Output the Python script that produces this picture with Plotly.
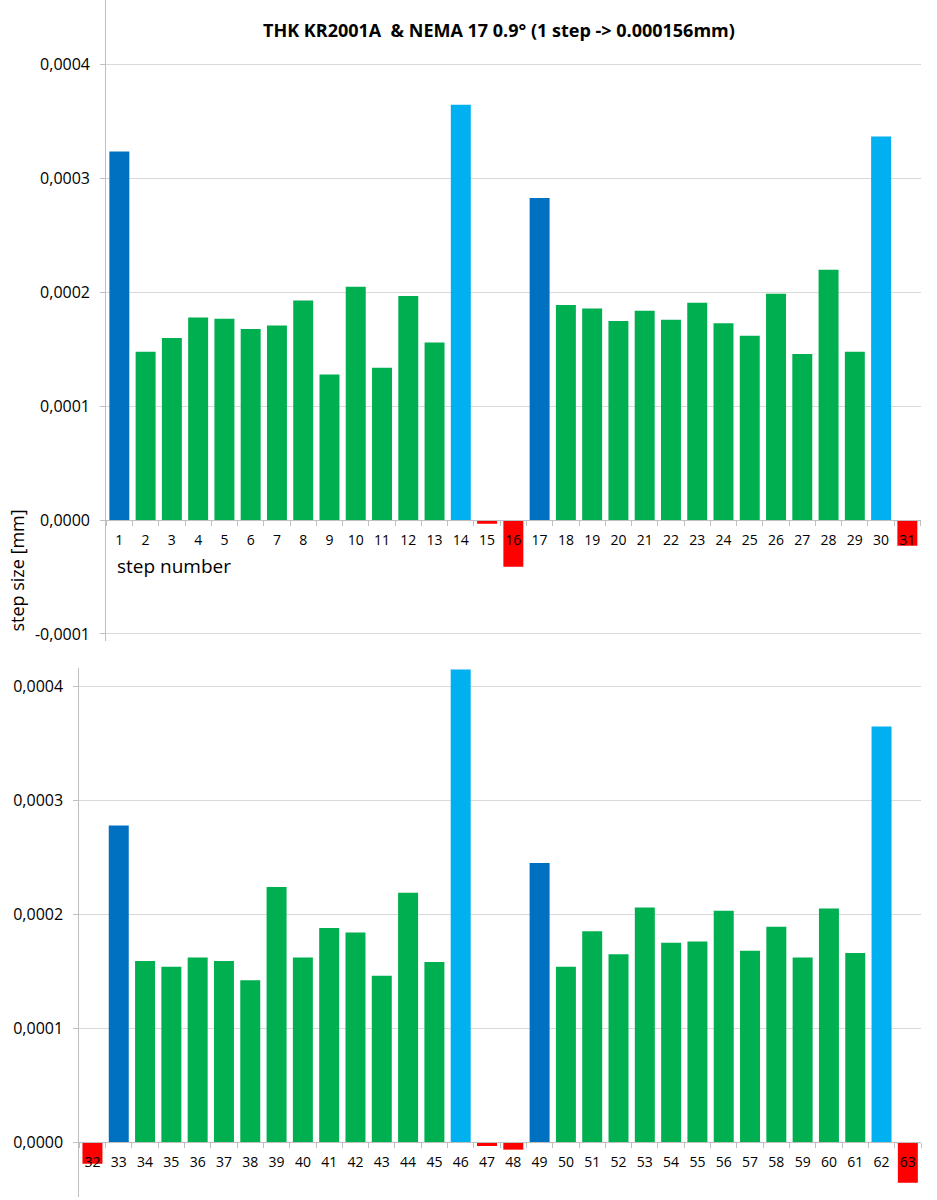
import plotly.graph_objects as go

# ---------------- data ----------------
steps_top = ["1", "2", "3", "4", "5", "6", "7", "8", "9", "10", "11", "12", "13", "14", "15", "16",
             "17", "18", "19", "20", "21", "22", "23", "24", "25", "26", "27", "28", "29", "30", "31"]
values_top = [0.000324, 0.000148, 0.000160, 0.000178, 0.000177, 0.000168, 0.000171, 0.000193,
              0.000128, 0.000205, 0.000134, 0.000197, 0.000156, 0.000365, -0.0000032, -0.000041,
              0.000283, 0.000189, 0.000186, 0.000175, 0.000184, 0.000176, 0.000191, 0.000173,
              0.000162, 0.000199, 0.000146, 0.000220, 0.000148, 0.000337, -0.0000225]

steps_bottom = ["32", "33", "34", "35", "36", "37", "38", "39", "40", "41", "42", "43", "44", "45", "46", "47",
                "48", "49", "50", "51", "52", "53", "54", "55", "56", "57", "58", "59", "60", "61", "62", "63"]
values_bottom = [-0.000019, 0.000278, 0.000159, 0.000154, 0.000162, 0.000159, 0.000142, 0.000224,
                 0.000162, 0.000188, 0.000184, 0.000146, 0.000219, 0.000158, 0.000415, -0.0000035,
                 -0.0000067, 0.000245, 0.000154, 0.000185, 0.000165, 0.000206, 0.000175, 0.000176,
                 0.000203, 0.000168, 0.000189, 0.000162, 0.000205, 0.000166, 0.000365, -0.0000358]

dark_blue_steps = ["1", "17", "33", "49"]
light_blue_steps = ["14", "30", "46", "62"]

top_tickvals = [-0.0001, 0.0, 0.0001, 0.0002, 0.0003, 0.0004]
top_ticktext = ["-0,0001", "0,0000", "0,0001", "0,0002", "0,0003", "0,0004"]
bottom_tickvals = [0.0, 0.0001, 0.0002, 0.0003, 0.0004]
bottom_ticktext = ["0,0000", "0,0001", "0,0002", "0,0003", "0,0004"]

title_text = "THK KR2001A  &amp; NEMA 17 0.9° (1 step -&gt; 0.000156mm)"
y_title = "step size [mm]"
x_title = "step number"

# ---------------- styles ----------------
DARK_BLUE = "#0070C0"
LIGHT_BLUE = "#00B0F0"
GREEN = "#00B050"
RED = "#FF0000"
GRID = "#D9D9D9"
AXIS = "#BFBFBF"
FONT = "Open Sans"
W, H = 937, 1200


def colors_for(steps, vals):
    out = []
    for s, v in zip(steps, vals):
        if v < 0:
            out.append(RED)
        elif s in dark_blue_steps:
            out.append(DARK_BLUE)
        elif s in light_blue_steps:
            out.append(LIGHT_BLUE)
        else:
            out.append(GREEN)
    return out


# panel geometry (paper fractions)
top_xdom = [106.2 / W, 920.5 / W]
top_ydom = [1 - 643 / H, 1.0]
top_range = [-0.0001065, 0.000457]
bot_xdom = [79.3 / W, 921.0 / W]
bot_ydom = [0.0, 1 - 670 / H]
bot_range = [-0.0000483, 0.000416]


def zero_pos(dom, rng):
    return dom[0] + (0 - rng[0]) / (rng[1] - rng[0]) * (dom[1] - dom[0])


fig = go.Figure()
fig.add_trace(go.Bar(x=steps_top, y=values_top, xaxis="x", yaxis="y",
                     marker=dict(color=colors_for(steps_top, values_top), line=dict(width=0)),
                     showlegend=False))
fig.add_trace(go.Bar(x=steps_bottom, y=values_bottom, xaxis="x2", yaxis="y2",
                     marker=dict(color=colors_for(steps_bottom, values_bottom), line=dict(width=0)),
                     showlegend=False))

xaxis_common = dict(type="category", showgrid=False, showline=True, linecolor=AXIS, linewidth=1,
                    ticks="outside", tickson="boundaries", ticklen=5, tickcolor=AXIS,
                    tickfont=dict(family=FONT, size=14, color="#000000"),
                    ticklabelstandoff=7, zeroline=False, fixedrange=True)
yaxis_common = dict(showgrid=True, gridcolor=GRID, gridwidth=1, showline=True, linecolor=AXIS,
                    linewidth=1, ticks="outside", ticklen=5, tickcolor=AXIS, zeroline=False,
                    tickfont=dict(family=FONT, size=16, color="#000000"), ticklabelstandoff=7)

fig.update_layout(
    width=W, height=H,
    margin=dict(l=0, r=0, t=0, b=0),
    paper_bgcolor="white", plot_bgcolor="white",
    bargap=0.24,
    xaxis=dict(domain=top_xdom, anchor="free", position=zero_pos(top_ydom, top_range),
               **xaxis_common),
    yaxis=dict(domain=top_ydom, anchor="x", range=top_range,
               tickvals=top_tickvals, ticktext=top_ticktext, **yaxis_common),
    xaxis2=dict(domain=bot_xdom, anchor="free", position=zero_pos(bot_ydom, bot_range),
                **xaxis_common),
    yaxis2=dict(domain=bot_ydom, anchor="x2", range=bot_range,
                tickvals=bottom_tickvals, ticktext=bottom_ticktext, **yaxis_common),
)

fig.add_annotation(text="<b>" + title_text + "</b>", xref="paper", yref="paper",
                   x=499 / W, y=1 - 30 / H, xanchor="center", yanchor="middle", showarrow=False,
                   font=dict(family=FONT, size=18, color="#000000"))
fig.add_annotation(text=y_title, xref="paper", yref="paper", textangle=-90,
                   x=17 / W, y=1 - 572 / H, xanchor="center", yanchor="middle", showarrow=False,
                   font=dict(family=FONT, size=18, color="#000000"))
fig.add_annotation(text=x_title, xref="paper", yref="paper",
                   x=115 / W, y=1 - 567 / H, xanchor="left", yanchor="middle", showarrow=False,
                   font=dict(family=FONT, size=19, color="#000000"))

fig.write_html("out.html",
               config={"displayModeBar": False},
               post_script="document.body.style.margin='0';document.body.style.overflow='hidden';")
